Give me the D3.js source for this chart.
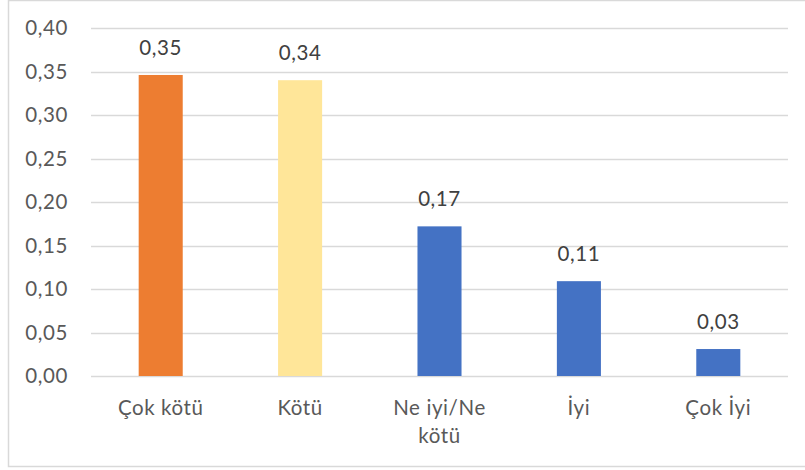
<!DOCTYPE html>
<html><head><meta charset="utf-8">
<script src="https://cdn.jsdelivr.net/npm/d3@7"></script>
<style>body{margin:0;background:#fff}svg{display:block}</style>
</head><body><svg id="c" width="805" height="470"></svg>
<script>
const categories = ["Çok kötü", "Kötü", "Ne iyi/Ne kötü", "İyi", "Çok İyi"];
const categoryLines = [["Çok kötü"], ["Kötü"], ["Ne iyi/Ne", "kötü"], ["İyi"], ["Çok İyi"]];
const values = [0.346, 0.340, 0.172, 0.109, 0.031];
const valueLabels = ["0,35", "0,34", "0,17", "0,11", "0,03"];
const barColors = ["#ED7D31", "#FFE699", "#4472C4", "#4472C4", "#4472C4"];
const yTicks = [0, 0.05, 0.10, 0.15, 0.20, 0.25, 0.30, 0.35, 0.40];

const svg = d3.select("#c");
const font = "Lato, 'Open Sans', sans-serif";
const fs = 20.5;
const ls = "0.6px";
const pLeft = 91, pRight = 788, pTop = 28, pBottom = 376;

// chart border
svg.append("path").attr("d", "M8.5,0.5 H805 M8.5,0 V466.5 H805")
  .attr("fill", "none").attr("stroke", "#D9D9D9").attr("stroke-width", 1.5);

const x = d3.scaleBand().domain(categories).range([pLeft, pRight]).paddingInner(0.684).paddingOuter(0.342);
const y = d3.scaleLinear().domain([0, 0.4]).range([pBottom, pTop]);

const fmt = d => d3.format(".2f")(d).replace(".", ",");

// gridlines
svg.append("g").selectAll("line").data(yTicks).join("line")
  .attr("x1", pLeft).attr("x2", pRight)
  .attr("y1", d => Math.round(y(d)) + 0.5).attr("y2", d => Math.round(y(d)) + 0.5)
  .attr("stroke", "#D9D9D9").attr("stroke-width", 1.3);

// y axis labels
const yAxis = d3.axisLeft(y).tickValues(yTicks).tickFormat(fmt).tickSize(0).tickPadding(0);
const ga = svg.append("g").attr("transform", `translate(68,0)`).call(yAxis);
ga.select(".domain").remove();
ga.selectAll("text").attr("font-family", font).attr("font-size", fs)
  .attr("letter-spacing", ls).attr("fill", "#595959");

// bars
svg.append("g").selectAll("rect").data(values).join("rect")
  .attr("x", (d, i) => x(categories[i]))
  .attr("width", x.bandwidth())
  .attr("y", d => y(d))
  .attr("height", d => y(0) - y(d))
  .attr("fill", (d, i) => barColors[i]);

// value labels
svg.append("g").selectAll("text").data(values).join("text")
  .attr("x", (d, i) => x(categories[i]) + x.bandwidth() / 2)
  .attr("y", d => y(d) - 20)
  .attr("text-anchor", "middle")
  .attr("font-family", font).attr("font-size", fs).attr("letter-spacing", ls).attr("fill", "#404040")
  .text((d, i) => valueLabels[i]);

// category labels
const cg = svg.append("g");
categories.forEach((c, i) => {
  const t = cg.append("text")
    .attr("x", x(c) + x.bandwidth() / 2)
    .attr("y", 415)
    .attr("text-anchor", "middle")
    .attr("font-family", font).attr("font-size", fs).attr("letter-spacing", ls).attr("fill", "#595959");
  categoryLines[i].forEach((line, j) => {
    t.append("tspan").attr("x", x(c) + x.bandwidth() / 2).attr("dy", j === 0 ? 0 : 28).text(line);
  });
});
</script></body></html>
